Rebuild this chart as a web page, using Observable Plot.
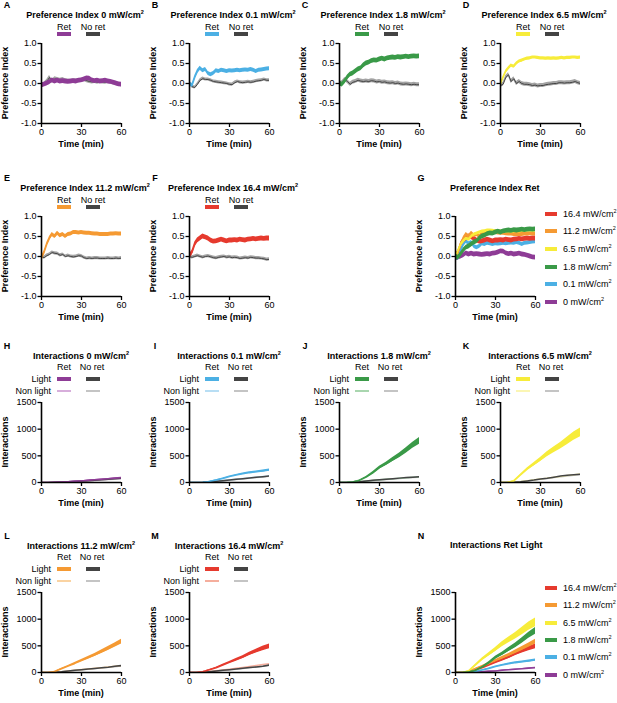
<!DOCTYPE html>
<html><head><meta charset="utf-8">
<script src="https://cdn.jsdelivr.net/npm/d3@7"></script>
<script src="https://cdn.jsdelivr.net/npm/@observablehq/plot@0.6"></script>
<style>
body{margin:0;background:#fff;font-family:"Liberation Sans",Arial,Helvetica,sans-serif;color:#000;}
#fig{position:relative;width:617px;height:703px;overflow:hidden;background:#fff;}
.abs{position:absolute;white-space:nowrap;line-height:1;}
.c{transform:translate(-50%,-50%);}
.l{transform:translate(0,-50%);}
.r{transform:translate(-100%,-50%);}
.b{font-weight:bold;}
.f9{font-size:9px;}
.sup{font-size:5.5px;vertical-align:4px;}
.rot{transform:translate(-50%,-50%) rotate(-90deg);}
.sw{position:absolute;}
</style>
</head><body><div id="fig"></div>
<script>
// ---------- DATA ----------
const intensities = ["0", "0.1", "1.8", "6.5", "11.2", "16.4"];
const colors = ["#8E3C96", "#4CB0E4", "#3A9A48", "#F7EC3A", "#F59A33", "#E63A2E"];
const paleColors = ["#D7AEDB", "#B8DEF4", "#A9D6AF", "#FBF6B4", "#FAD3A2", "#F5AE9D"];
const greyDark = "#444444", greyBand = "#A3A3A3", greyPale = "#C4C4C4";
const piTicks = [-1, -0.5, 0, 0.5, 1];
const intTicks = [0, 500, 1000, 1500];
const timeTicks = [0, 30, 60];

const tPI = [0,2,4,6,8,10,12,14,16,18,20,22,24,26,28,30,32,34,36,38,40,42,44,46,48,50,52,54,56,58,60];
const piRet0   = [-0.05,-0.03,0.00,0.03,0.08,0.05,0.07,0.05,0.06,0.05,0.04,0.05,0.06,0.05,0.07,0.08,0.10,0.13,0.12,0.08,0.06,0.07,0.05,0.06,0.07,0.05,0.04,0.02,0.00,-0.02,-0.03];
const piRet01  = [0.00,-0.05,0.15,0.30,0.38,0.32,0.35,0.25,0.22,0.25,0.32,0.30,0.33,0.32,0.30,0.32,0.31,0.32,0.33,0.32,0.33,0.34,0.33,0.35,0.33,0.30,0.33,0.34,0.35,0.36,0.37];
const piRet18  = [0.00,-0.03,0.05,0.15,0.22,0.25,0.30,0.35,0.38,0.45,0.50,0.52,0.56,0.58,0.57,0.60,0.62,0.60,0.63,0.64,0.65,0.64,0.66,0.65,0.66,0.67,0.66,0.67,0.68,0.67,0.68];
const piRet65  = [-0.02,0.15,0.30,0.38,0.45,0.42,0.50,0.55,0.57,0.60,0.62,0.63,0.65,0.65,0.64,0.63,0.63,0.62,0.63,0.62,0.63,0.62,0.63,0.64,0.63,0.64,0.64,0.65,0.65,0.64,0.65];
const piRet112 = [-0.05,0.10,0.30,0.45,0.55,0.50,0.58,0.52,0.55,0.50,0.55,0.56,0.60,0.60,0.59,0.60,0.59,0.58,0.58,0.57,0.56,0.56,0.55,0.55,0.55,0.55,0.56,0.56,0.57,0.56,0.56];
const piRet164 = [0.00,0.10,0.30,0.40,0.45,0.50,0.48,0.45,0.40,0.37,0.38,0.40,0.42,0.40,0.38,0.40,0.40,0.41,0.40,0.42,0.41,0.40,0.42,0.43,0.44,0.43,0.44,0.45,0.44,0.45,0.45];
const piNoRet0   = [-0.05,-0.02,0.05,0.15,0.05,0.12,0.10,0.08,0.10,0.07,0.06,0.05,0.07,0.06,0.06,0.08,0.10,0.07,0.05,0.04,0.05,0.03,0.05,0.04,0.03,0.05,0.03,0.01,0.00,-0.02,-0.03];
const piNoRet01  = [0.00,-0.08,-0.10,-0.02,0.08,0.12,0.10,0.10,0.08,0.05,0.04,0.03,0.02,0.01,0.00,-0.02,-0.03,0.02,0.05,0.03,0.02,0.03,0.04,0.03,0.04,0.06,0.07,0.08,0.10,0.08,0.08];
const piNoRet18  = [0.00,0.02,0.10,0.05,-0.02,0.03,0.05,0.08,0.06,0.05,0.06,0.05,0.07,0.06,0.04,0.05,0.03,0.04,0.02,0.01,0.02,0.00,0.01,-0.01,-0.02,-0.01,-0.02,-0.03,-0.02,-0.03,-0.03];
const piNoRet65  = [-0.05,-0.02,0.15,0.22,0.05,0.12,0.00,0.05,0.00,-0.02,-0.02,-0.03,-0.05,-0.04,-0.06,-0.05,-0.05,-0.03,-0.02,-0.01,0.00,0.00,0.02,0.02,0.01,0.02,0.02,0.03,0.05,0.02,0.00];
const piNoRet112 = [0.00,-0.03,0.02,0.05,0.10,0.08,0.07,0.03,0.05,0.00,0.02,0.00,-0.01,0.00,0.02,0.01,-0.03,-0.05,-0.04,-0.05,-0.04,-0.04,-0.05,-0.05,-0.05,-0.04,-0.05,-0.05,-0.04,-0.05,-0.04];
const piNoRet164 = [0.00,-0.02,0.00,0.02,0.00,-0.02,0.00,0.01,-0.01,-0.03,-0.04,-0.02,-0.01,0.00,-0.02,-0.01,-0.03,-0.02,-0.03,-0.05,-0.04,-0.03,-0.04,-0.02,-0.03,-0.04,-0.04,-0.05,-0.06,-0.08,-0.07];
const piSemRet   = [0.06, 0.05, 0.06, 0.04, 0.05, 0.06];
const piSemNoRet = [0.05, 0.04, 0.05, 0.05, 0.04, 0.04];

const tInt = [0,5,10,15,20,25,30,35,40,45,50,55,60];
const intRetLight0   = [0,0,3,8,15,22,30,40,50,60,70,80,90];
const intRetLight01  = [0,0,5,20,45,75,110,140,165,185,200,215,235];
const intRetLight18  = [0,0,8,40,100,180,280,350,430,510,600,700,780];
const intRetLight65  = [0,0,30,140,250,340,430,530,610,690,780,870,940];
const intRetLight112 = [0,0,20,70,120,170,225,275,330,390,450,515,580];
const intRetLight164 = [0,0,15,50,90,140,190,240,290,350,400,450,490];
const intSemRetLight0   = [0,0,1,2,3,4,5,5,6,6,7,7,8];
const intSemRetLight01  = [0,0,2,4,6,8,10,12,14,15,16,18,20];
const intSemRetLight18  = [0,0,4,8,14,20,26,32,38,44,50,56,62];
const intSemRetLight65  = [0,0,8,15,22,30,38,46,54,62,70,76,80];
const intSemRetLight112 = [0,0,4,8,12,16,20,24,28,32,36,40,45];
const intSemRetLight164 = [0,0,3,6,10,14,18,22,26,30,35,40,45];
const intNoRetLight0   = [0,0,3,8,14,20,27,35,43,52,60,70,80];
const intNoRetLight01  = [0,0,4,12,22,35,48,60,72,85,97,110,122];
const intNoRetLight18  = [0,0,5,15,28,40,52,62,72,82,92,100,110];
const intNoRetLight65  = [0,0,5,15,30,45,65,80,100,120,135,145,155];
const intNoRetLight112 = [0,0,5,15,28,40,52,64,76,88,100,115,130];
const intNoRetLight164 = [0,0,5,15,27,40,52,65,78,92,105,118,140];
const intRetNon0   = [0,0,2,6,12,18,25,33,42,50,60,68,78];
const intRetNon01  = [0,0,4,12,24,36,50,62,75,88,100,112,125];
const intRetNon18  = [0,0,4,14,26,38,50,60,70,80,90,98,106];
const intRetNon65  = [0,0,6,18,34,50,66,82,98,114,130,146,160];
const intRetNon112 = [0,0,5,15,28,40,54,66,78,90,102,115,128];
const intRetNon164 = [0,0,5,18,32,46,62,78,95,112,130,150,165];
const intNoRetNon0   = [0,0,2,6,11,17,24,31,39,47,55,63,72];
const intNoRetNon01  = [0,0,3,10,20,32,44,56,68,80,92,104,116];
const intNoRetNon18  = [0,0,4,13,25,36,47,57,67,76,85,93,100];
const intNoRetNon65  = [0,0,5,16,30,45,60,76,92,108,122,136,148];
const intNoRetNon112 = [0,0,4,14,26,38,50,62,74,86,98,110,122];
const intNoRetNon164 = [0,0,5,15,27,39,51,63,76,89,102,118,135];

const piRet = [piRet0, piRet01, piRet18, piRet65, piRet112, piRet164];
const piNoRet = [piNoRet0, piNoRet01, piNoRet18, piNoRet65, piNoRet112, piNoRet164];
const intRetLight = [intRetLight0, intRetLight01, intRetLight18, intRetLight65, intRetLight112, intRetLight164];
const intSemRetLight = [intSemRetLight0, intSemRetLight01, intSemRetLight18, intSemRetLight65, intSemRetLight112, intSemRetLight164];
const intNoRetLight = [intNoRetLight0, intNoRetLight01, intNoRetLight18, intNoRetLight65, intNoRetLight112, intNoRetLight164];
const intRetNon = [intRetNon0, intRetNon01, intRetNon18, intRetNon65, intRetNon112, intRetNon164];
const intNoRetNon = [intNoRetNon0, intNoRetNon01, intNoRetNon18, intNoRetNon65, intNoRetNon112, intNoRetNon164];

// ---------- LAYOUT ----------
const piPanels = [
  {letter:"A", i:0, x0:41,  y0:43},
  {letter:"B", i:1, x0:189, y0:43},
  {letter:"C", i:2, x0:339, y0:43},
  {letter:"D", i:3, x0:500, y0:43},
  {letter:"E", i:4, x0:41,  y0:216},
  {letter:"F", i:5, x0:189, y0:216}
];
const intPanels = [
  {letter:"H", i:0, x0:41,  y0:402},
  {letter:"I", i:1, x0:189, y0:402},
  {letter:"J", i:2, x0:339, y0:402},
  {letter:"K", i:3, x0:500, y0:402},
  {letter:"L", i:4, x0:41,  y0:592},
  {letter:"M", i:5, x0:189, y0:592}
];
const G = {letter:"G", x0:455, y0:216, title:"Preference Index Ret"};
const N = {letter:"N", x0:455, y0:592, title:"Interactions Ret Light"};

const FONT = '"Liberation Sans", Arial, Helvetica, sans-serif';
const fig = document.getElementById("fig");
function txt(html, x, y, cls) {
  const d = document.createElement("div");
  d.className = "abs " + cls;
  d.style.left = x + "px"; d.style.top = y + "px";
  d.innerHTML = html; fig.appendChild(d); return d;
}
function swatch(x1, x2, yc, h, color) {
  const d = document.createElement("div");
  d.className = "sw";
  d.style.left = x1 + "px"; d.style.width = (x2 - x1) + "px";
  d.style.top = (yc - h / 2) + "px"; d.style.height = h + "px";
  d.style.background = color; fig.appendChild(d);
}
const unit = s => s + " mW/cm<span class='sup'>2</span>";

const ML = 44, MR = 8, MT = 5, MB = 26, W = 80, H = 80;
function buildPlot(x0, y0, ydom, yticks, fmt, marks) {
  const svg = Plot.plot({
    width: ML + W + MR, height: MT + H + MB,
    marginLeft: ML, marginRight: MR, marginTop: MT, marginBottom: MB,
    style: {fontFamily: FONT, fontSize: "9px", color: "#000", background: "transparent", overflow: "visible"},
    x: {domain: [0, 60]},
    y: {domain: ydom},
    marks: [
      ...marks,
      Plot.axisX({ticks: timeTicks, tickSize: 4, tickPadding: 1.5, label: null, tickFormat: d => String(d), strokeWidth: 1.3}),
      Plot.axisY({ticks: yticks, tickSize: 3.5, tickPadding: 1.5, label: null, tickFormat: fmt, strokeWidth: 1.3}),
      Plot.ruleX([0], {stroke: "#000", strokeWidth: 1.6}),
      Plot.ruleY([ydom[0]], {stroke: "#000", strokeWidth: 1.6})
    ]
  });
  svg.style.position = "absolute";
  svg.style.left = (x0 - ML) + "px";
  svg.style.top = (y0 - MT) + "px";
  fig.appendChild(svg);
}
function axisLabels(x0, y0, ylab) {
  txt(ylab, x0 - 36, y0 + H / 2, "rot b f9");
  txt("Time (min)", x0 + W / 2, y0 + H + 21, "c b f9");
}
const piFmt = d => d.toFixed(1);
const intFmt = d => String(d);

function piRows(arr, s) { return tPI.map((t, k) => ({t, m: arr[k], lo: arr[k] - s, hi: arr[k] + s})); }
function intRows(arr, sem) { return tInt.map((t, k) => ({t, m: arr[k], lo: Math.max(0, arr[k] - (sem ? sem[k] : 0)), hi: arr[k] + (sem ? sem[k] : 0)})); }

function piBand(i, withNoRet) {
  const marks = [];
  if (withNoRet) {
    const nr = piRows(piNoRet[i], piSemNoRet[i]);
    marks.push(Plot.areaY(nr, {x: "t", y1: "lo", y2: "hi", fill: greyBand, clip: true}));
    marks.push(Plot.line(nr, {x: "t", y: "m", stroke: greyDark, strokeWidth: 1, clip: true}));
  }
  const r = piRows(piRet[i], piSemRet[i]);
  marks.push(Plot.areaY(r, {x: "t", y1: "lo", y2: "hi", fill: colors[i], clip: true}));
  marks.push(Plot.line(r, {x: "t", y: "m", stroke: colors[i], strokeWidth: 1.2, clip: true}));
  return marks;
}
function intBand(i) {
  const r = intRows(intRetLight[i], intSemRetLight[i]);
  return [
    Plot.areaY(r, {x: "t", y1: "lo", y2: "hi", fill: colors[i], clip: true}),
    Plot.line(r, {x: "t", y: "m", stroke: colors[i], strokeWidth: 1.5, clip: true})
  ];
}

// ---------- PREFERENCE PANELS ----------
for (const p of piPanels) {
  const {x0, y0, i} = p;
  buildPlot(x0, y0, [-1, 1], piTicks, piFmt, piBand(i, true));
  txt(p.letter, x0 - 34, y0 - 38, "c b f9");
  txt("Preference Index " + unit(intensities[i]), x0 + W / 2 + 4, y0 - 28, "c b f9");
  txt("Ret", x0 + 23, y0 - 16, "c f9");
  txt("No ret", x0 + 52, y0 - 16, "c f9");
  swatch(x0 + 16, x0 + 30, y0 - 9, 4, colors[i]);
  swatch(x0 + 45, x0 + 59, y0 - 9, 4, greyDark);
  axisLabels(x0, y0, "Preference Index");
}

// ---------- G ----------
{
  const order = [0, 1, 5, 4, 3, 2];
  const marks = order.flatMap(i => piBand(i, false));
  buildPlot(G.x0, G.y0, [-1, 1], piTicks, piFmt, marks);
  txt(G.letter, G.x0 - 34, G.y0 - 38, "c b f9");
  txt(G.title, G.x0 - 5, G.y0 - 28, "l b f9");
  axisLabels(G.x0, G.y0, "Preference Index");
  const legY = [214, 231, 249, 267, 284, 302];
  [5, 4, 3, 2, 1, 0].forEach((i, k) => {
    swatch(545, 557, legY[k], 4, colors[i]);
    txt(unit(intensities[i]), 563, legY[k], "l f9");
  });
}

// ---------- INTERACTION PANELS ----------
for (const p of intPanels) {
  const {x0, y0, i} = p;
  const marks = [
    Plot.line(intRows(intNoRetNon[i]), {x: "t", y: "m", stroke: greyPale, strokeWidth: 1.5, clip: true}),
    Plot.line(intRows(intRetNon[i]), {x: "t", y: "m", stroke: paleColors[i], strokeWidth: 1.5, clip: true}),
    Plot.line(intRows(intNoRetLight[i]), {x: "t", y: "m", stroke: greyDark, strokeWidth: 1.5, clip: true}),
    ...intBand(i)
  ];
  buildPlot(x0, y0, [0, 1500], intTicks, intFmt, marks);
  txt(p.letter, x0 - 34, y0 - 56, "c b f9");
  txt("Interactions " + unit(intensities[i]), x0 + W / 2, y0 - 46, "c b f9");
  txt("Ret", x0 + 23, y0 - 35, "c f9");
  txt("No ret", x0 + 51, y0 - 35, "c f9");
  txt("Light", x0 + 10, y0 - 23, "r f9");
  txt("Non light", x0 + 10, y0 - 11, "r f9");
  swatch(x0 + 16, x0 + 30, y0 - 23, 3.5, colors[i]);
  swatch(x0 + 45, x0 + 59, y0 - 23, 3.5, greyDark);
  swatch(x0 + 16, x0 + 30, y0 - 11, 2.5, paleColors[i]);
  swatch(x0 + 45, x0 + 59, y0 - 11, 2.5, greyPale);
  axisLabels(x0, y0, "Interactions");
}

// ---------- N ----------
{
  const order = [0, 1, 5, 4, 3, 2];
  const marks = order.flatMap(i => intBand(i));
  buildPlot(N.x0, N.y0, [0, 1500], intTicks, intFmt, marks);
  txt(N.letter, N.x0 - 34, N.y0 - 56, "c b f9");
  txt(N.title, N.x0 - 5, N.y0 - 47, "l b f9");
  axisLabels(N.x0, N.y0, "Interactions");
  const legY = [588, 605, 623, 640, 657, 675];
  [5, 4, 3, 2, 1, 0].forEach((i, k) => {
    swatch(545, 557, legY[k], 4, colors[i]);
    txt(unit(intensities[i]), 563, legY[k], "l f9");
  });
}
</script>
</body></html>
